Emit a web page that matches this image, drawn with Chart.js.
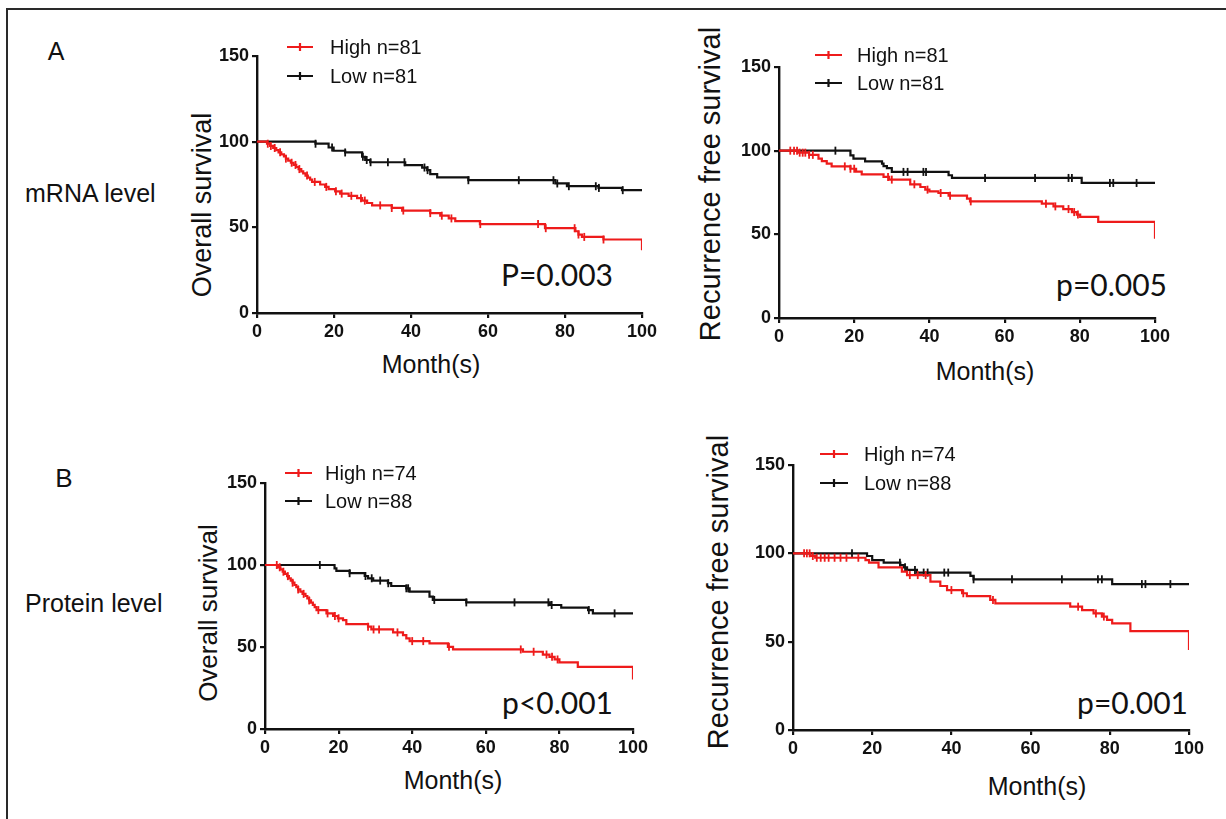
<!DOCTYPE html>
<html>
<head>
<meta charset="utf-8">
<title>Kaplan-Meier curves</title>
<script src="https://cdn.jsdelivr.net/npm/chart.js@4.4.1/dist/chart.umd.min.js"></script>
<style>
  html, body { margin: 0; padding: 0; background: #fff; }
  body { width: 1226px; height: 819px; position: relative; overflow: hidden;
         font-family: "Liberation Sans", Arial, sans-serif; color: #111; }
  .frame { position: absolute; left: 6px; top: 8px; width: 1300px; height: 900px;
           border-left: 2px solid #2a2a2a; border-top: 2px solid #2a2a2a; }
  .t { position: absolute; white-space: nowrap; line-height: 1; }
  .c { transform: translate(-50%, -50%); }
  .l { transform: translate(0, -50%); }
  .r { transform: translate(-100%, -50%); }
  .v { transform: translate(-50%, -50%) rotate(-90deg); }
  .pv { font-family: Lato, "Open Sans", sans-serif; font-size: 30px; }
  canvas { position: absolute; }
</style>
</head>
<body>
<div class="frame"></div>

<div class="t c" style="left:56px;top:51px;font-size:25px">A</div>
<div class="t c" style="left:64px;top:478px;font-size:26px">B</div>
<div class="t l" style="left:25px;top:193px;font-size:25px">mRNA level</div>
<div class="t l" style="left:25px;top:603px;font-size:25px">Protein level</div>

<div class="t v" style="left:202px;top:205px;font-size:27px">Overall survival</div>
<div class="t v" style="left:710px;top:184px;font-size:29px">Recurrence free survival</div>
<div class="t v" style="left:208px;top:613px;font-size:26px">Overall survival</div>
<div class="t v" style="left:718px;top:592px;font-size:29px">Recurrence free survival</div>

<div class="t c" style="left:431px;top:364px;font-size:25px">Month(s)</div>
<div class="t c" style="left:985px;top:371px;font-size:25px">Month(s)</div>
<div class="t c" style="left:453px;top:780px;font-size:25px">Month(s)</div>
<div class="t c" style="left:1037px;top:786px;font-size:25px">Month(s)</div>

<div class="t r pv" style="left:613px;top:274px">P=0.003</div>
<div class="t r pv" style="left:1167px;top:284px">p=0.005</div>
<div class="t r pv" style="left:613px;top:702px">p&lt;0.001</div>
<div class="t r pv" style="left:1188px;top:702px">p=0.001</div>

<script>
// axis ticks
const xTickLabels = [0, 20, 40, 60, 80, 100];
const yTickLabels = [0, 50, 100, 150];

// A, mRNA level - overall survival (month, survival %)
const mrnaOsHighT = [0, 2.6, 3.4, 4.2, 5, 5.6, 6.3, 7, 7.5, 8.1, 8.8, 9.5, 10.2, 10.8, 11.5, 12, 12.6, 13.2, 13.8, 14.3,
  16.4, 17.7, 18.6, 20.3, 21.6, 23.8, 26, 27.3, 28.6, 29.9, 35, 37.7, 45, 47.6, 49.8, 51.5, 57.9, 74.8, 82.7, 83.5,
  84.4, 90, 100];
const mrnaOsHighS = [100, 98.8, 97.5, 96.3, 95.1, 93.8, 92.6, 91.4, 90.1, 88.9, 87.7, 86.4, 85.2, 84, 82.7, 81.5, 80.2, 79, 77.8, 76.5,
  75, 73.6, 72.3, 71, 69.7, 68.4, 67, 65.6, 64.2, 62.8, 61.3, 59.8, 58.3, 56.8, 55.2, 53.6, 51.9, 49.5, 47.7, 45.8,
  44.4, 42.9, 36.6];
const mrnaOsHighCens = [2.8, 3.6, 4.6, 6, 7.5, 9, 10, 11, 13, 15, 18, 20.5, 22, 24.5, 27, 28, 32, 35, 38, 45, 48, 50.5, 58, 73, 75, 82.5, 83.5, 85, 90];
const mrnaOsLowT = [0, 15.2, 18.6, 19.9, 22.9, 27.3, 28.1, 29.4, 38.5, 42.9, 44.2, 45, 46.8, 54.9, 77.5, 80.5, 88.7, 94.8, 100];
const mrnaOsLowS = [100, 98.8, 96.6, 94.7, 93.7, 91.2, 89.3, 88, 86.3, 84.9, 83.4, 81.1, 79.2, 77.5, 75.6, 74, 73, 71.7, 71.7];
const mrnaOsLowCens = [15.2, 19.5, 22.9, 27.5, 28.5, 29.5, 34, 38.3, 43.5, 44.3, 54.9, 68, 77, 78, 81, 88, 88.8, 95];

// A, mRNA level - recurrence free survival
const mrnaRfsHighT = [0, 5, 8, 10.5, 11.4, 12.7, 14, 19, 20.5, 22, 27.8, 29.3, 34.9, 37.6, 38.9, 40, 42.4, 45.1, 50, 50.8,
  69.9, 73, 75.6, 77.9, 79.2, 80.1, 84.9, 100];
const mrnaRfsHighS = [100, 98.8, 97.5, 95.3, 93.8, 92.2, 90.6, 89.2, 87.5, 85.8, 84.3, 82.7, 79.9, 78.3, 76.7, 75.7, 74.7, 73.1, 71.3, 69.7,
  68.3, 66.7, 65.1, 63.3, 61.8, 60.4, 57.4, 47.4];
const mrnaRfsHighCens = [3, 4, 4.8, 5.5, 6.3, 7, 8, 9, 17.5, 19, 20, 29, 30, 36, 39.5, 43, 45.5, 51, 71, 73.5, 77, 78.5, 79.5];
const mrnaRfsLowT = [0, 19, 19.8, 22.9, 27.4, 27.8, 28.7, 30, 45.1, 46, 80.5, 100];
const mrnaRfsLowS = [100, 97.2, 95.2, 93.6, 92.2, 90.8, 89.6, 87.3, 85.3, 83.7, 80.7, 80.7];
const mrnaRfsLowCens = [15, 33.1, 34.2, 38.4, 39.1, 54.8, 68.1, 77, 77.9, 88, 88.9, 95.1];

// B, protein level - overall survival
const protOsHighT = [0, 3.5, 4.2, 4.8, 5.4, 6, 6.5, 7, 7.5, 8, 8.5, 9, 9.6, 10.2, 11, 11.5, 12, 12.5, 13, 13.5,
  14, 16.7, 18.5, 19.8, 21.2, 22.1, 28, 28.9, 34.8, 37.5, 38.4, 39.3, 44.7, 49.7, 51.1, 70.1, 75.5, 77.3, 78.7, 80,
  85, 100];
const protOsHighS = [100, 98.6, 97.3, 95.9, 94.6, 93.2, 91.9, 90.5, 89.2, 87.8, 86.5, 85.1, 83.8, 82.4, 81.1, 79.7, 78.4, 77, 75.7, 74.3,
  72.5, 70.5, 68.9, 67.5, 66.4, 64, 62.4, 60.7, 58.9, 57.3, 55.2, 53.6, 52.2, 50.1, 48.5, 47.1, 45.4, 44, 42.4, 40.6,
  37.9, 30.2];
const protOsHighCens = [3.2, 4, 5, 6.2, 7.5, 9, 10.5, 12, 14.5, 17, 19, 20, 28, 29.5, 31, 36, 40, 43, 50, 69.5, 73, 76.5, 78, 79.5];
const protOsLowT = [0, 18.9, 19.4, 23, 27.1, 28, 29.4, 33.4, 34.3, 38.4, 39.3, 44.7, 45.6, 54.7, 77.4, 80.5, 87.8, 89.1, 100];
const protOsLowS = [100, 98, 96.4, 95, 93.3, 91.9, 90.5, 88.9, 87.2, 85.8, 83.8, 80.7, 78.7, 77.2, 75.6, 74, 72.5, 70.5, 70.5];
const protOsLowCens = [14.9, 23, 27.3, 29, 31.3, 33.5, 38.4, 38.9, 46, 54.7, 67.8, 77, 77.9, 88, 95];

// B, protein level - recurrence free survival
const protRfsHighT = [0, 4.4, 5.6, 18.3, 19.2, 21.6, 27.5, 28.8, 34.7, 37.2, 38.9, 42.7, 43.9, 49.8, 51.1, 70, 73, 75.9, 78, 79.3,
  80.6, 85.2, 100];
const protRfsHighS = [100, 98.5, 97.5, 96.2, 94.7, 92.1, 89.6, 87.7, 84, 81.5, 79.2, 77.4, 75.8, 73.6, 71.7, 69.8, 67.9, 66, 64.2, 62.3,
  60.4, 56, 45.3];
const protRfsHighCens = [2.8, 3.5, 4.2, 5, 6, 7, 8, 9, 10.5, 12, 13.5, 16.5, 29.5, 31.5, 33.5, 40, 43, 50.5, 72, 76.5, 78.5];
const protRfsLowT = [0, 18.7, 20, 22.9, 27.1, 28, 28.8, 31.3, 44.8, 45.6, 80.6, 100];
const protRfsLowS = [100, 98.5, 96.2, 94.7, 93.4, 92.1, 90.6, 89.1, 87.2, 85.3, 82.6, 82.6];
const protRfsLowCens = [14.9, 27, 28.3, 30.8, 33, 34, 38.2, 39.2, 45.6, 55.3, 67.9, 77, 78, 88.1, 89, 95.3];

const RED = '#ee1b1b';
const BLACK = '#111111';
const TICK_FONT = { family: '"Liberation Sans", Arial, sans-serif', size: 18, weight: 'bold' };

// value of the step curve at month t (used to hang censor marks on the curve)
function survivalAt(times, surv, t) {
  let v = surv[0];
  for (let i = 0; i < times.length; i++) {
    if (times[i] <= t) v = surv[i];
  }
  return v;
}

function kmSets(label, row, color, times, surv, cens) {
  return [{
    label: label,
    legendRow: row,
    data: times.map((t, i) => ({ x: t, y: surv[i] })),
    borderColor: color,
    borderWidth: 2.2,
    stepped: 'before',
    pointRadius: 0,
    fill: false
  }, {
    data: cens.map(t => ({ x: t, y: survivalAt(times, surv, t) })),
    showLine: false,
    pointStyle: 'line',
    rotation: 90,
    pointRadius: 4,
    pointBorderWidth: 1.8,
    pointBorderColor: color,
    borderColor: color,
    backgroundColor: color
  }];
}

// legend: line with a censor tick, label to the right, rows stacked
const kmLegend = {
  id: 'kmLegend',
  afterDraw(chart, args, opts) {
    const { ctx, chartArea } = chart;
    ctx.save();
    chart.data.datasets.forEach(ds => {
      if (ds.legendRow === undefined) return;
      const y = chartArea.top + opts.y + ds.legendRow * opts.rowGap;
      const x0 = chartArea.left + opts.x;
      ctx.strokeStyle = ds.borderColor;
      ctx.lineWidth = 2.2;
      ctx.beginPath();
      ctx.moveTo(x0, y);
      ctx.lineTo(x0 + opts.lineW, y);
      ctx.moveTo(x0 + opts.lineW / 2, y - 4);
      ctx.lineTo(x0 + opts.lineW / 2, y + 4);
      ctx.stroke();
      ctx.fillStyle = '#111';
      ctx.font = '20px "Liberation Sans", Arial, sans-serif';
      ctx.textBaseline = 'middle';
      ctx.fillText(ds.label, chartArea.left + opts.textX, y + 1);
    });
    ctx.restore();
  }
};

function makePanel(p) {
  const pad = { l: 80, t: 50, r: 35, b: 42 };
  const cv = document.createElement('canvas');
  cv.width = p.area[2] - p.area[0] + pad.l + pad.r;
  cv.height = p.area[3] - p.area[1] + pad.t + pad.b;
  cv.style.left = (p.area[0] - pad.l) + 'px';
  cv.style.top = (p.area[1] - pad.t) + 'px';
  document.body.appendChild(cv);

  new Chart(cv, {
    type: 'line',
    data: { datasets: p.datasets },
    options: {
      responsive: false,
      animation: false,
      devicePixelRatio: 1,
      layout: { padding: { left: 0, top: pad.t, right: pad.r, bottom: 0 } },
      plugins: {
        legend: { display: false },
        tooltip: { enabled: false },
        kmLegend: p.legend
      },
      scales: {
        x: {
          type: 'linear', min: 0, max: 100,
          afterBuildTicks: s => { s.ticks = xTickLabels.map(v => ({ value: v })); },
          afterFit: s => { s.height = pad.b; },
          grid: { drawOnChartArea: false, drawTicks: true, tickLength: 5, color: BLACK, lineWidth: 2.2 },
          border: { display: true, color: BLACK, width: 2.4 },
          ticks: { color: '#111', font: TICK_FONT, padding: 3, maxRotation: 0, autoSkip: false }
        },
        y: {
          type: 'linear', min: 0, max: 150,
          afterBuildTicks: s => { s.ticks = yTickLabels.map(v => ({ value: v })); },
          afterFit: s => { s.width = pad.l; },
          grid: { drawOnChartArea: false, drawTicks: true, tickLength: 5, color: BLACK, lineWidth: 2.2 },
          border: { display: true, color: BLACK, width: 2.4 },
          ticks: { color: '#111', font: TICK_FONT, padding: 3 }
        }
      }
    },
    plugins: [kmLegend]
  });
}

makePanel({
  area: [257, 56, 642, 313],
  legend: { x: 30, lineW: 26, textX: 73, y: -9, rowGap: 29 },
  datasets: [
    ...kmSets('High n=81', 0, RED, mrnaOsHighT, mrnaOsHighS, mrnaOsHighCens),
    ...kmSets('Low n=81', 1, BLACK, mrnaOsLowT, mrnaOsLowS, mrnaOsLowCens)
  ]
});
makePanel({
  area: [779, 67, 1155, 318],
  legend: { x: 36, lineW: 27, textX: 78, y: -12, rowGap: 28 },
  datasets: [
    ...kmSets('High n=81', 0, RED, mrnaRfsHighT, mrnaRfsHighS, mrnaRfsHighCens),
    ...kmSets('Low n=81', 1, BLACK, mrnaRfsLowT, mrnaRfsLowS, mrnaRfsLowCens)
  ]
});
makePanel({
  area: [265, 483, 633, 729],
  legend: { x: 20, lineW: 27, textX: 60, y: -10, rowGap: 28 },
  datasets: [
    ...kmSets('High n=74', 0, RED, protOsHighT, protOsHighS, protOsHighCens),
    ...kmSets('Low n=88', 1, BLACK, protOsLowT, protOsLowS, protOsLowCens)
  ]
});
makePanel({
  area: [793, 465, 1189, 730],
  legend: { x: 27, lineW: 28, textX: 71, y: -11, rowGap: 29 },
  datasets: [
    ...kmSets('High n=74', 0, RED, protRfsHighT, protRfsHighS, protRfsHighCens),
    ...kmSets('Low n=88', 1, BLACK, protRfsLowT, protRfsLowS, protRfsLowCens)
  ]
});
</script>
</body>
</html>
